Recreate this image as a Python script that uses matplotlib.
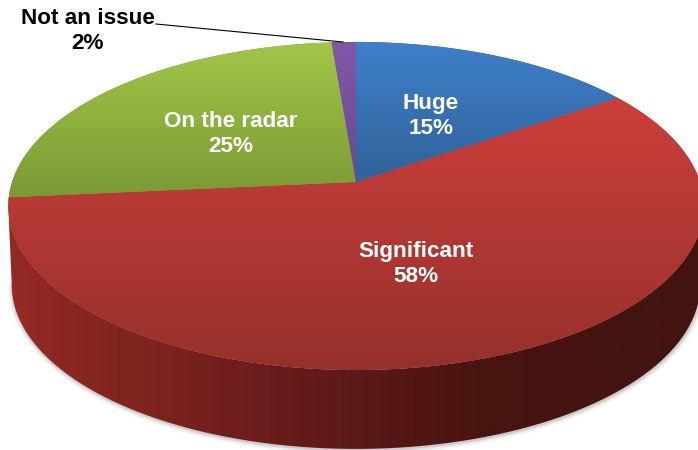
import numpy as np
import matplotlib
matplotlib.use("Agg")
import matplotlib.pyplot as plt
from matplotlib.colors import LinearSegmentedColormap
from matplotlib.path import Path
from matplotlib.patches import PathPatch
from matplotlib.transforms import Transform

categories = ["Huge", "Significant", "On the radar", "Not an issue"]
values = [15.4, 58.1, 25.2, 1.3]
value_labels = ["15%", "58%", "25%", "2%"]

top_colors = [("#3F80CC", "#2F6298"), ("#CC3F3A", "#96302B"),
              ("#A2C648", "#7A9A35"), ("#8058A8", "#6C4890")]
side_stops = [(0.0, "#962A26"), (0.14, "#85261F"), (0.3, "#74201E"),
              (0.52, "#5A1915"), (0.7, "#481410"), (1.0, "#421410")]

CX, CY, RX, RY, K = 356.0, 182.0, 344.0, 160.5, 0.146
DEPTH, SHRINK = 79.0, 0.99
W, H = 698, 450


def project(uv, depth=0.0, scale=1.0):
    uv = np.asarray(uv, float)
    s = 1.0 / (1.0 + K * uv[:, 1])
    return np.column_stack([CX + scale * RX * uv[:, 0] * s,
                            CY - RY * uv[:, 1] * s + depth])


class TiltTransform(Transform):
    input_dims = 2
    output_dims = 2
    is_affine = False

    def transform_non_affine(self, values):
        return project(values)

    def transform_path_non_affine(self, path):
        pts = []
        for seg, code in path.iter_bezier():
            if code == Path.MOVETO or code == Path.CLOSEPOLY:
                pts.append(seg.control_points[-1:])
            else:
                pts.append(seg(np.linspace(0, 1, 25)))
        return Path(project(np.vstack(pts)), closed=True)


fig = plt.figure(figsize=(W / 100, H / 100), dpi=100)
ax = fig.add_axes([0, 0, 1, 1])
wedges, _ = ax.pie(values, startangle=90, counterclock=False, radius=1)
ax.set_aspect("auto")
ax.set_xlim(0, W)
ax.set_ylim(H, 0)
ax.axis("off")

# extruded side and its soft shadow
lo = np.arcsin(-K)
front = np.linspace(np.pi - lo, 2 * np.pi + lo, 361)
rim = project(np.column_stack([np.cos(front), np.sin(front)]))
base = project(np.column_stack([np.cos(front), np.sin(front)]), DEPTH, SHRINK)
outer = np.vstack([rim, base[::-1]])
for lw, a in [(7, 0.04), (5, 0.06), (3, 0.09), (1.5, 0.14)]:
    ax.plot(base[:, 0] + 0.5, base[:, 1] + 1, color="#555555", lw=lw, alpha=a,
            zorder=0.5, solid_capstyle="round")
side = PathPatch(Path(outer, closed=False), fc="none", ec="none", zorder=1)
ax.add_patch(side)
side_cmap = LinearSegmentedColormap.from_list("side", side_stops)
im = ax.imshow(np.linspace(0, 1, 256)[None, :], cmap=side_cmap, extent=(0, W, H, 0),
               aspect="auto", zorder=1, interpolation="bilinear")
im.set_clip_path(side)

# top faces
tilt = TiltTransform()
for w, (c_top, c_bot) in zip(wedges, top_colors):
    w.set_transform(tilt + ax.transData)
    w.set_facecolor(c_bot)
    w.set_edgecolor("none")
    w.set_zorder(2)
    verts = tilt.transform_path_non_affine(w.get_path()).vertices
    y0, y1 = verts[:, 1].min(), verts[:, 1].max()
    cmap = LinearSegmentedColormap.from_list("f", [c_top, c_bot])
    g = ax.imshow(np.linspace(0, 1, 256)[:, None], cmap=cmap, extent=(0, W, y1, y0),
                  aspect="auto", zorder=3, interpolation="bilinear")
    g.set_clip_path(w)
ax.set_xlim(0, W)
ax.set_ylim(H, 0)

font = dict(family=["Liberation Sans", "DejaVu Sans"], fontweight="bold", fontsize=16.2,
            ha="center", va="center", linespacing=1.3, zorder=6)
anchors = [(431, 116), (416, 264), (231, 134), (88, 31)]
colors = ["white", "white", "white", "black"]
for name, lab, (x, y), col in zip(categories, value_labels, anchors, colors):
    ax.text(x, y, f"{name}\n{lab}", color=col, **font)

ax.plot([156, 343], [24, 42], color="black", lw=0.8, zorder=5)

fig.savefig("out.png", dpi=100)
